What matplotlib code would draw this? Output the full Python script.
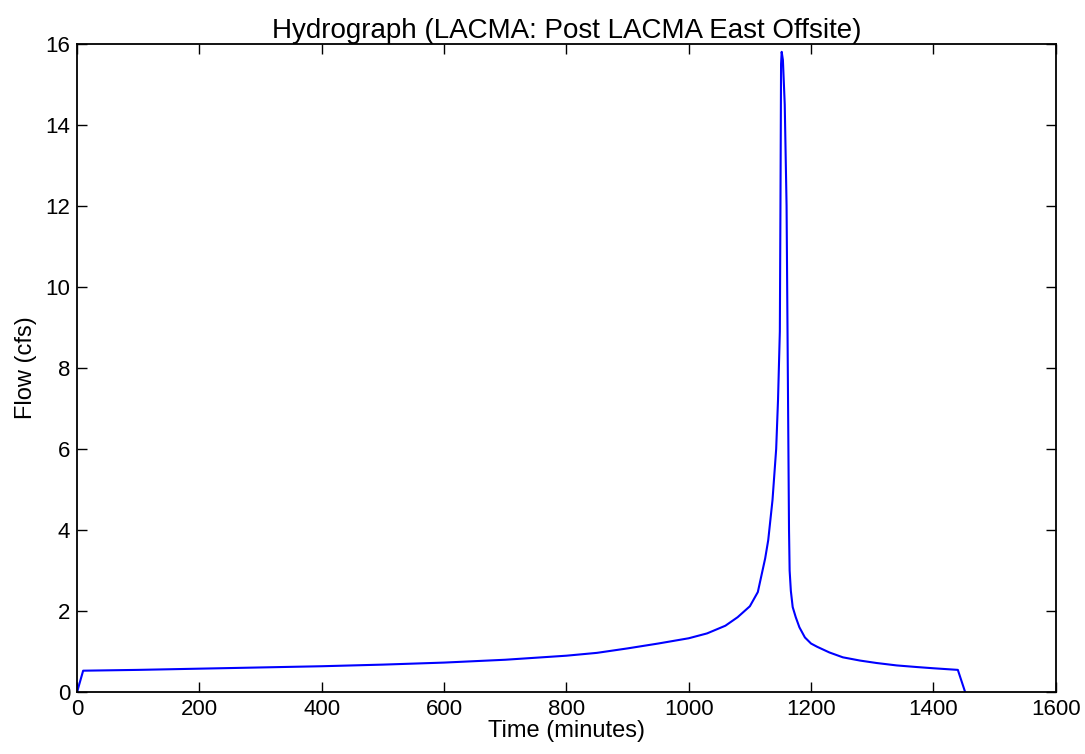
import matplotlib
matplotlib.use('Agg')
import matplotlib.pyplot as plt

time_min = [0, 10, 100, 200, 300, 400, 500, 600, 700, 800, 850, 900, 950,
            1000, 1030, 1060, 1080, 1100, 1113, 1125, 1130, 1137, 1143, 1146,
            1149, 1150, 1151, 1152, 1154, 1157, 1160, 1162, 1164, 1165, 1167,
            1170, 1175, 1181, 1190, 1200, 1210, 1230, 1252, 1280, 1307, 1340,
            1373, 1400, 1440, 1452]
flow_cfs = [0, 0.53, 0.55, 0.58, 0.61, 0.64, 0.68, 0.73, 0.80, 0.90, 0.97,
            1.08, 1.20, 1.33, 1.45, 1.64, 1.85, 2.12, 2.47, 3.3, 3.75, 4.74,
            6.0, 7.2, 8.9, 12.0, 15.5, 15.8, 15.6, 14.5, 12.0, 8.0, 4.0, 3.0,
            2.5, 2.1, 1.85, 1.6, 1.35, 1.2, 1.12, 0.98, 0.86, 0.78, 0.72, 0.66,
            0.62, 0.59, 0.55, 0]

plt.rcParams['font.family'] = ['Liberation Sans', 'DejaVu Sans']

fig = plt.figure(figsize=(10.85, 7.54), dpi=100)
ax = fig.add_axes([0.071, 0.082, 0.902, 0.860])
ax.plot(time_min, flow_cfs, color='b', lw=1.5)
ax.set_xlim(0, 1600)
ax.set_ylim(0, 16)
ax.set_xticks(range(0, 1601, 200))
ax.set_yticks(range(0, 17, 2))
ax.tick_params(direction='in', top=True, right=True, length=7, width=1,
               labelsize=16, pad=5)
for s in ax.spines.values():
    s.set_linewidth(1.3)
ax.set_title('Hydrograph (LACMA: Post LACMA East Offsite)', fontsize=20, pad=4)
ax.set_xlabel('Time (minutes)', fontsize=17, labelpad=0)
ax.set_ylabel('Flow (cfs)', fontsize=17, labelpad=6)
fig.savefig('out.png', dpi=100)
